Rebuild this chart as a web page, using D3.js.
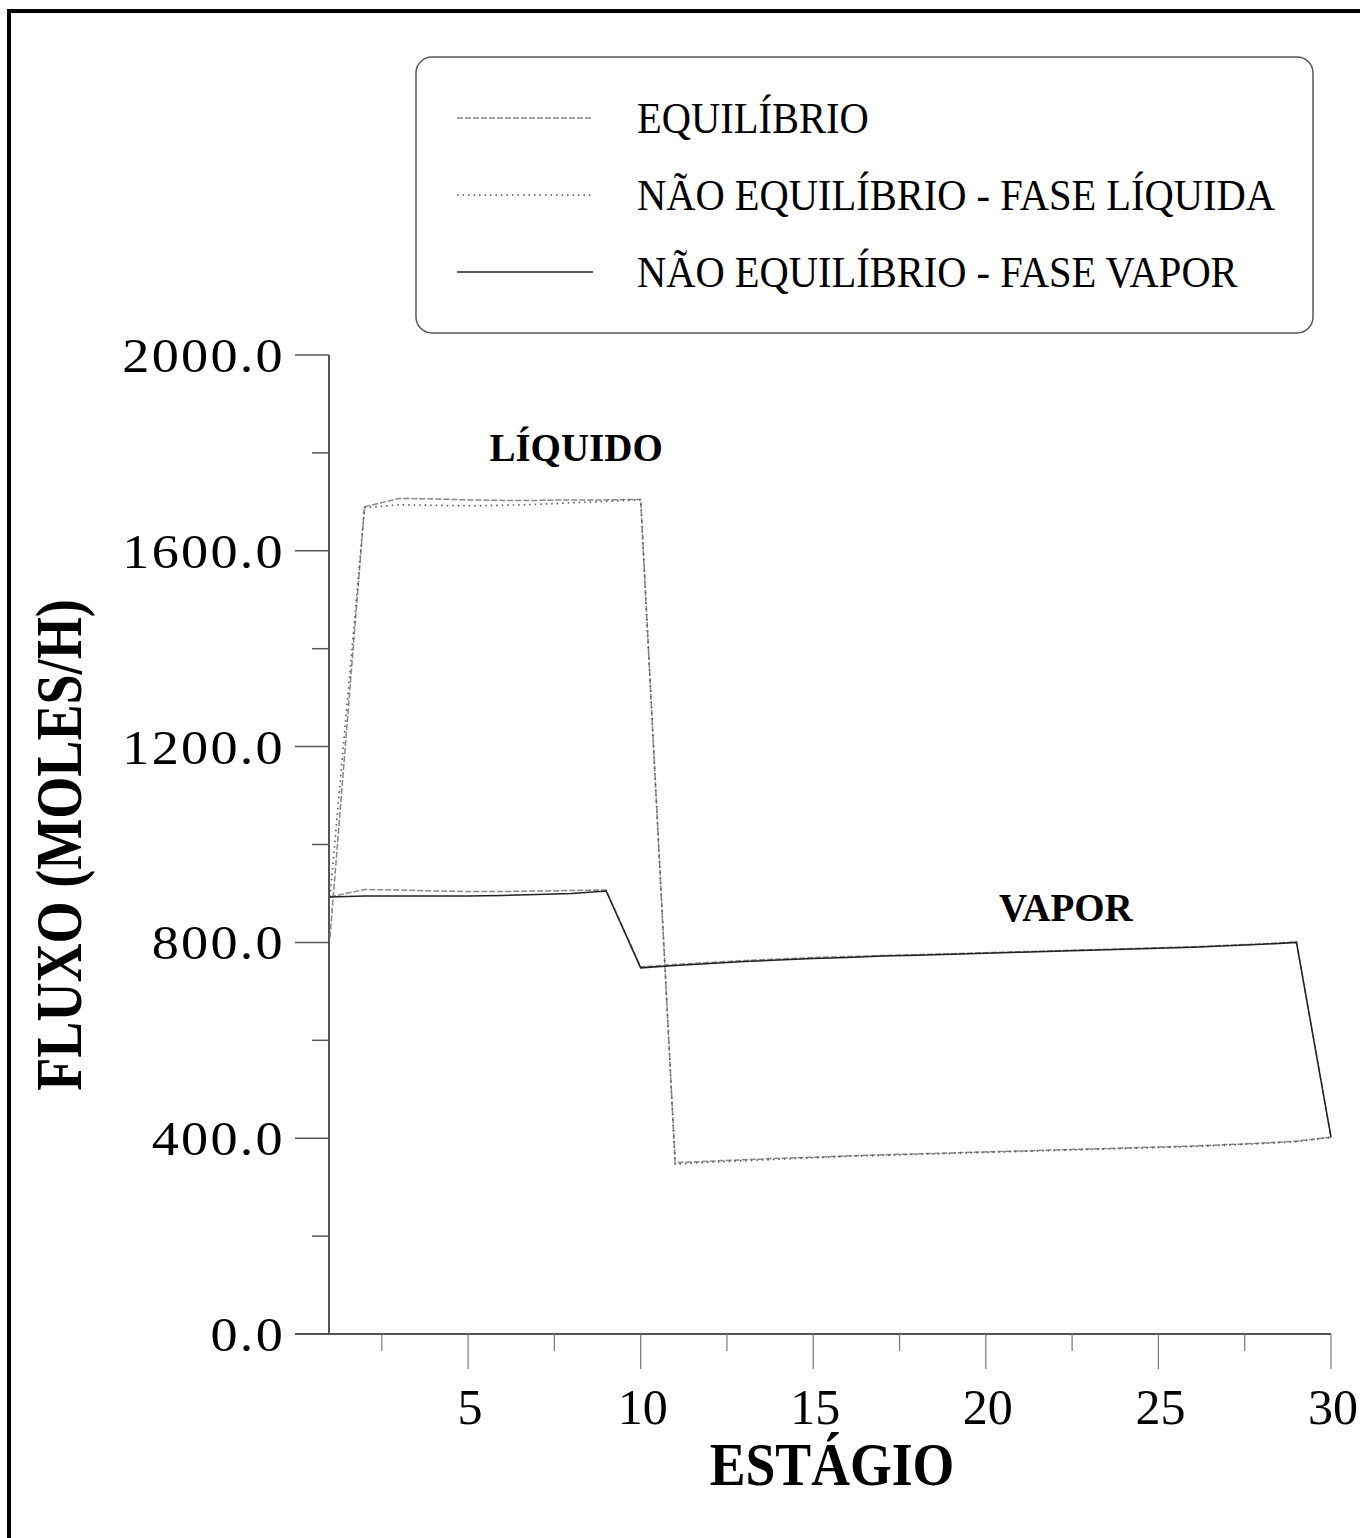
<!DOCTYPE html>
<html><head><meta charset="utf-8">
<script src="https://cdn.jsdelivr.net/npm/d3@7"></script>
<style>body{margin:0;background:#fff}svg{display:block}</style>
</head><body>
<script>
// ---- data ----
const stages = [1,2,3,4,5,6,7,8,9,10,11,12,13,14,15,16,17,18,19,20,21,22,23,24,25,26,27,28,29,30];
const eqLiquid = [810,1690,1707,1706,1704,1703,1703,1704,1704,1705,350,353,356,359,361,364,366,368,370,372,374,376,378,380,382,384,387,390,394,402];
const neLiquid = [893,1688,1694,1693,1692,1693,1695,1698,1701,1704,347,351,354,357,360,363,365,367,369,371,373,375,377,379,381,383,386,389,393,402];
const eqVapor  = [893,908,907,905,904,904,905,906,907,750,755,759,763,766,769,771,773,775,777,779,781,783,785,787,789,791,794,797,801,402];
const neVapor  = [893,895,895,895,895,896,898,900,905,748,753,757,761,764,767,769,772,774,776,778,780,782,784,786,788,790,793,796,800,402];
const yTicks = [0,400,800,1200,1600,2000];
const yMinor = [200,600,1000,1400,1800];
const xTicks = [5,10,15,20,25,30];
const xMinor = [2.5,7.5,12.5,17.5,22.5,27.5];
const legendLabels = ["EQUILÍBRIO","NÃO EQUILÍBRIO - FASE LÍQUIDA","NÃO EQUILÍBRIO - FASE VAPOR"];
const xTitle = "ESTÁGIO", yTitle = "FLUXO (MOLES/H)";
const annotations = [{text:"LÍQUIDO", stage:8.13, value:1783},{text:"VAPOR", stage:22.32, value:844}];

// ---- setup ----
const W=1360,H=1538;
const FONT = "'Liberation Serif','Times New Roman',serif";
const svg = d3.select("body").append("svg").attr("width",W).attr("height",H);
svg.append("rect").attr("width",W).attr("height",H).attr("fill","#fff");
svg.append("rect").attr("x",9).attr("y",11).attr("width",W+20).attr("height",H+20)
   .attr("fill","none").attr("stroke","#000").attr("stroke-width",4);

const x = d3.scaleLinear().domain([1,30]).range([330,1331]);
const y = d3.scaleLinear().domain([0,2000]).range([1334,355]);

function txt(px,py,s,size,sx,weight,anchor,rot,ls){
  const g = svg.append("g").attr("transform",`translate(${px},${py})${rot?` rotate(${rot})`:""} scale(${sx},1)`);
  const t = g.append("text").text(s).attr("font-family",FONT).attr("font-size",size)
   .attr("font-weight",weight||"normal").attr("text-anchor",anchor||"start").attr("fill","#000");
  if(ls) t.attr("letter-spacing",ls);
  return g;
}

// axes
const axisColor="#555";
svg.append("line").attr("x1",x(1)-1).attr("x2",x(1)-1).attr("y1",y(2000)).attr("y2",y(0)).attr("stroke",axisColor).attr("stroke-width",2);
svg.append("line").attr("x1",295).attr("x2",x(30)).attr("y1",y(0)).attr("y2",y(0)).attr("stroke",axisColor).attr("stroke-width",2);
yTicks.forEach(v=>{
  svg.append("line").attr("x1",295).attr("x2",x(1)-1).attr("y1",y(v)).attr("y2",y(v)).attr("stroke",axisColor).attr("stroke-width",1.5);
  txt(285,y(v)+17,d3.format(".1f")(v),48,1.13,"normal","end",0,2);
});
yMinor.forEach(v=>{
  svg.append("line").attr("x1",312).attr("x2",x(1)-1).attr("y1",y(v)).attr("y2",y(v)).attr("stroke",axisColor).attr("stroke-width",1.5);
});
xTicks.forEach(v=>{
  svg.append("line").attr("x1",x(v)).attr("x2",x(v)).attr("y1",y(0)).attr("y2",y(0)+35).attr("stroke","#777").attr("stroke-width",1.2);
  txt(x(v)+2,1424,String(v),50,1,"normal","middle");
});
xMinor.forEach(v=>{
  svg.append("line").attr("x1",x(v)).attr("x2",x(v)).attr("y1",y(0)).attr("y2",y(0)+17).attr("stroke","#777").attr("stroke-width",1.2);
});

// titles
txt(832,1485,xTitle,61,0.88,"bold","middle");
txt(81,845,yTitle,66,0.82,"bold","middle",-90);

// lines
const styles = [
  {color:"#888", dash:"6,2", width:1.5},
  {color:"#555", dash:"1.5,4", width:1.6},
  {color:"#222", dash:null, width:1.5}
];
const line = d3.line().x((d,i)=>x(stages[i])).y(d=>y(d));
function draw(arr,st){
  svg.append("path").attr("d",line(arr)).attr("fill","none").attr("stroke",st.color)
    .attr("stroke-width",st.width).attr("stroke-dasharray",st.dash);
}
draw(eqLiquid,styles[0]); draw(eqVapor,styles[0]);
draw(neLiquid,styles[1]); draw(neVapor,styles[2]);

// annotations
annotations.forEach(a=>txt(x(a.stage),y(a.value),a.text,39,1,"bold","middle"));

// legend
svg.append("rect").attr("x",416).attr("y",57).attr("width",897).attr("height",276).attr("rx",16)
  .attr("fill","none").attr("stroke","#555").attr("stroke-width",1.5);
legendLabels.forEach((l,i)=>{
  const ly = 118 + i*77;
  svg.append("line").attr("x1",457).attr("x2",593).attr("y1",ly).attr("y2",ly)
    .attr("stroke",styles[i].color).attr("stroke-width",styles[i].width).attr("stroke-dasharray",styles[i].dash);
  txt(637,ly+15,l,45,0.9,"normal","start");
});
</script>
</body></html>
